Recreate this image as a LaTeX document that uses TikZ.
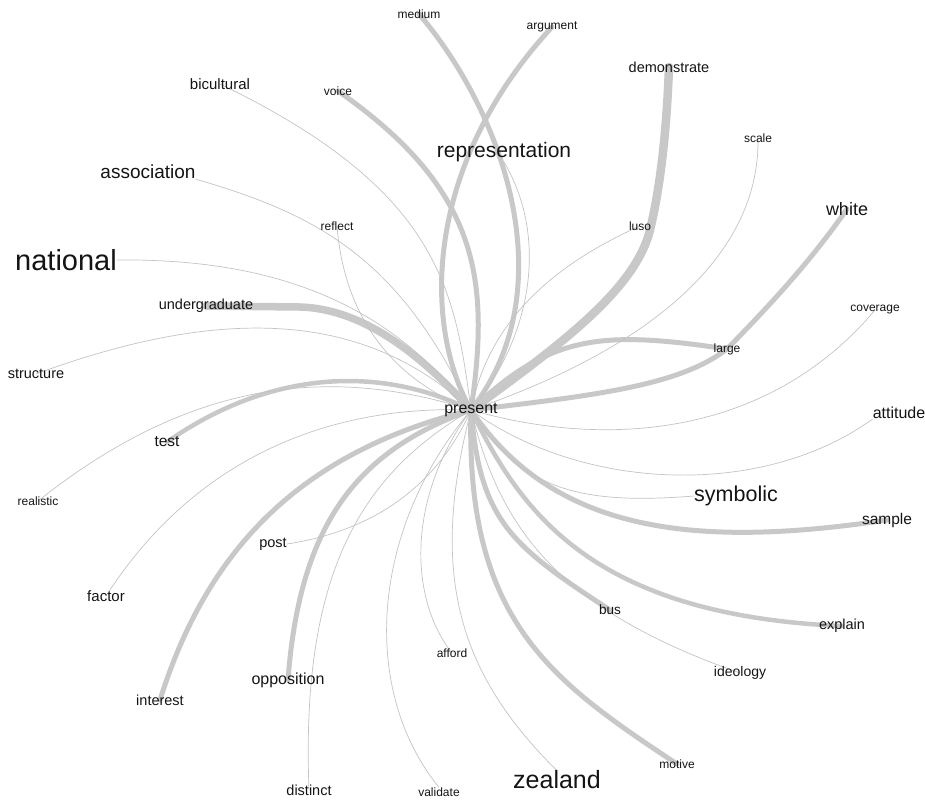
\documentclass[tikz,border=0pt]{standalone}
\usepackage{fontspec}
\setmainfont{Liberation Sans}
\usepackage{tikz}
\usepackage{xcolor}
\definecolor{edgegrey}{RGB}{200,200,200}
\definecolor{thingrey}{RGB}{195,195,195}
\definecolor{ink}{RGB}{20,20,20}
\usetikzlibrary{backgrounds}
\newcommand{\wsz}[1]{\fontsize{#1}{#1}\selectfont}

\begin{document}
\begin{tikzpicture}[x=1pt,y=-1pt,every node/.style={inner sep=0pt,text=ink},
        tinyword/.style={font=\wsz{12}},
        word/.style={font=\wsz{14.5}},
        midword/.style={font=\wsz{16}},
        weak/.style={draw=thingrey,line width=0.7pt},
        strong/.style={draw=edgegrey,line width=5pt,line cap=round},
        heavy/.style={draw=edgegrey,line width=8.5pt,line cap=round}]
        \useasboundingbox (0,0) rectangle (925,803);
        % words
        \node[midword] (present) at (471,410) {present};
        \node[tinyword] (medium) at (419,14) {medium};
        \node[tinyword] (argument) at (552,27) {argument};
        \node[word] (demonstrate) at (669,67) {demonstrate};
        \node[tinyword] (voice) at (338,91) {voice};
        \node[word,font=\wsz{15}] (bicultural) at (220,84) {bicultural};
        \node[font=\wsz{21}] (representation) at (504,152) {representation};
        \node[font=\wsz{19}] (association) at (148,172) {association};
        \node[tinyword] (scale) at (758,138) {scale};
        \node[font=\wsz{18}] (white) at (847,209) {white};
        \node[tinyword] (reflect) at (337,226) {reflect};
        \node[tinyword] (luso) at (640,226) {luso};
        \node[font=\wsz{29}] (national) at (66,260) {national};
        \node[word] (undergraduate) at (206,306) {undergraduate};
        \node[tinyword] (coverage) at (875,310) {coverage};
        \node[tinyword] (large) at (727,349) {large};
        \node[word] (structure) at (36,374) {structure};
        \node[midword] (attitude) at (899,413) {attitude};
        \node[word,font=\wsz{15.5}] (test) at (167,442) {test};
        \node[tinyword] (realistic) at (38,501) {realistic};
        \node[font=\wsz{21.5}] (symbolic) at (736,496) {symbolic};
        \node[word,font=\wsz{15.5}] (sample) at (887,520) {sample};
        \node[word] (post) at (273,544) {post};
        \node[word,font=\wsz{15}] (factor) at (106,596) {factor};
        \node[word,font=\wsz{13.6}] (bus) at (610,610) {bus};
        \node[word] (explain) at (842,626) {explain};
        \node[tinyword] (afford) at (452,653) {afford};
        \node[word,font=\wsz{14}] (ideology) at (740,673) {ideology};
        \node[midword] (opposition) at (288,680) {opposition};
        \node[word] (interest) at (160,700) {interest};
        \node[font=\wsz{25}] (zealand) at (557,780) {zealand};
        \node[tinyword] (motive) at (677,764) {motive};
        \node[word] (distinct) at (309,790) {distinct};
        \node[tinyword] (validate) at (439,792) {validate};
        % edges
        \begin{scope}[on background layer]
            \draw[heavy] (present.center) .. controls (560,345) and (635,290) .. (650,230) .. controls (662,180) and (667,120) .. (demonstrate.center);
            \draw[heavy,line width=7.5pt] (present.center) .. controls (430,365) and (370,309) .. (300,307) -- (undergraduate.center);
            \draw[strong] (present.center) .. controls (565,290) and (505,115) .. (medium.center);
            \draw[strong] (present.center) .. controls (425,330) and (420,170) .. (argument.center);
            \draw[strong] (present.center) .. controls (490,280) and (480,190) .. (voice.center);
            \draw[strong] (present.center) .. controls (550,335) and (600,330) .. (large.center);
            \draw[strong] (present.center) .. controls (600,395) and (680,385) .. (large.center) .. controls (770,305) and (810,262) .. (white.center);
            \draw[strong] (present.center) .. controls (555,535) and (700,548) .. (sample.center);
            \draw[strong,line width=4.5pt] (present.center) .. controls (520,510) and (590,615) .. (explain.center);
            \draw[strong] (present.center) .. controls (480,520) and (510,545) .. (bus.center);
            \draw[strong] (present.center) .. controls (465,620) and (550,680) .. (motive.center);
            \draw[strong] (present.center) .. controls (360,450) and (300,520) .. (opposition.center);
            \draw[strong] (present.center) .. controls (310,450) and (210,540) .. (interest.center);
            \draw[strong,line width=4.5pt] (present.center) .. controls (380,365) and (270,370) .. (test.center);
            \draw[weak] (present.center) .. controls (530,340) and (550,240) .. (representation.south);
            \draw[weak] (present.center) .. controls (485,340) and (530,275) .. (luso.center);
            \draw[weak] (present.center) .. controls (660,345) and (760,250) .. (scale.center);
            \draw[weak] (present.center) .. controls (610,450) and (770,435) .. (coverage.center);
            \draw[weak] (present.center) .. controls (580,490) and (760,500) .. (attitude.south west);
            \draw[weak] (present.center) .. controls (520,490) and (580,505) .. (symbolic.west);
            \draw[weak] (present.center) .. controls (500,530) and (560,610) .. (ideology.center);
            \draw[weak] (present.center) .. controls (430,570) and (455,670) .. (zealand.north);
            \draw[weak] (present.center) .. controls (405,500) and (410,600) .. (afford.center);
            \draw[weak] (present.center) .. controls (370,530) and (360,690) .. (validate.north);
            \draw[weak] (present.center) .. controls (370,470) and (300,560) .. (distinct.center);
            \draw[weak] (present.center) .. controls (440,480) and (380,530) .. (post.east);
            \draw[weak] (present.center) .. controls (340,405) and (200,450) .. (factor.center);
            \draw[weak] (present.center) .. controls (330,365) and (190,380) .. (realistic.center);
            \draw[weak] (present.center) .. controls (380,325) and (250,295) .. (structure.center);
            \draw[weak] (present.center) .. controls (400,320) and (300,258) .. (national.east);
            \draw[weak] (present.center) .. controls (400,260) and (320,215) .. (association.south east);
            \draw[weak] (present.center) .. controls (370,370) and (342,290) .. (reflect.center);
            \draw[weak] (present.center) .. controls (455,290) and (440,190) .. (bicultural.center);
        \end{scope}
    \end{tikzpicture}
\end{document}
